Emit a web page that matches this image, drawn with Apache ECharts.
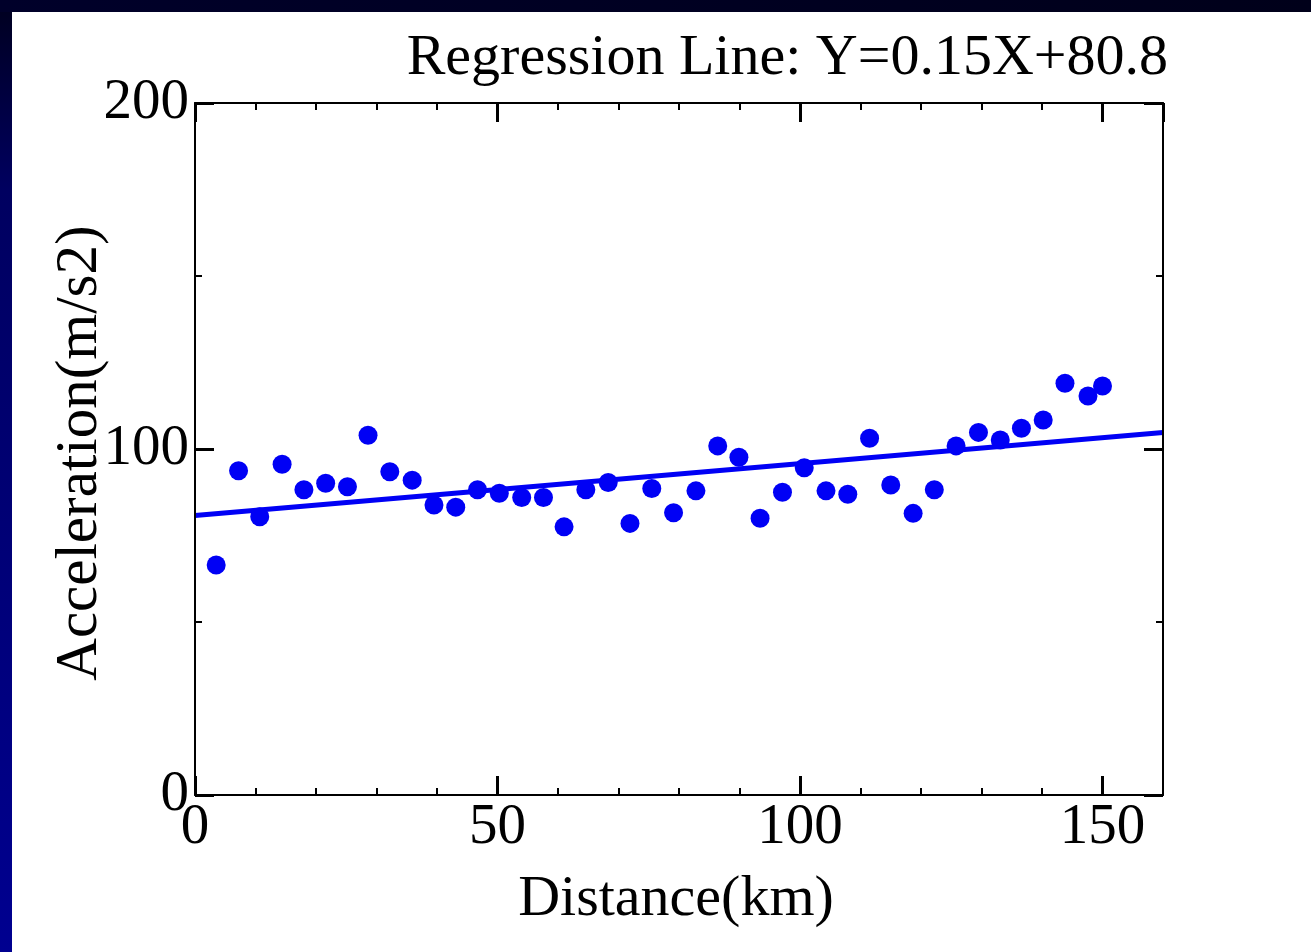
<!DOCTYPE html>
<html><head><meta charset="utf-8">
<script src="https://cdn.jsdelivr.net/npm/echarts@6/dist/echarts.min.js"></script>
<style>html,body{margin:0;padding:0;background:#fff;overflow:hidden;} #c{width:1311px;height:952px;}</style>
</head><body><div id="c"></div>
<script>
// ---- data ----
const distanceKm = [3.5, 7.2, 10.7, 14.4, 18.0, 21.6, 25.2, 28.6, 32.2, 35.9,
  39.5, 43.1, 46.7, 50.3, 54.0, 57.6, 61.0, 64.6, 68.3, 71.9,
  75.5, 79.1, 82.8, 86.4, 89.9, 93.4, 97.1, 100.7, 104.3, 107.9,
  111.5, 115.0, 118.7, 122.2, 125.8, 129.5, 133.1, 136.6, 140.2, 143.8,
  147.6, 150.0];
const acceleration = [66.5, 93.7, 80.4, 95.6, 88.2, 90.1, 89.1, 104.0, 93.4, 91.0,
  83.8, 83.2, 88.2, 87.2, 86.0, 86.0, 77.5, 88.2, 90.3, 78.5,
  88.6, 81.6, 87.9, 100.9, 97.6, 80.0, 87.5, 94.6, 87.9, 86.9,
  103.1, 89.6, 81.4, 88.2, 100.9, 104.8, 102.6, 106.0, 108.4, 119.0,
  115.3, 118.2];
const regLineX = [0, 160];
const regLineY = [80.8, 104.8];
const titleText = 'Regression Line: Y=0.15X+80.8';
const xName = 'Distance(km)';
const yName = 'Acceleration(m/s2)';

// ---- chart ----
const FONT = "'Liberation Serif', 'Times New Roman', serif";
const BLUE = '#0000f5';
const chart = echarts.init(document.getElementById('c'), null, {renderer: 'canvas'});

function axisBase(pos, interval, major, labels, min, max) {
  return {
    type: 'value', position: pos, min: min, max: max, interval: interval,
    splitLine: {show: false},
    axisLine: {show: major, onZero: false, lineStyle: {color: '#000', width: 2}},
    axisTick: {show: true, inside: true, length: major ? 19 : 7,
      lineStyle: {color: '#000', width: major ? 3 : 2}},
    axisLabel: {show: labels, color: '#000', fontFamily: FONT, fontSize: 57,
      margin: pos === 'bottom' ? 5 : 6, showMaxLabel: pos === 'bottom' ? false : true},
    z: 10
  };
}

const scatterData = distanceKm.map((d, i) => [d, acceleration[i]]);
const lineData = regLineX.map((d, i) => [d, regLineY[i]]);

chart.setOption({
  backgroundColor: '#ffffff',
  animation: false,
  grid: {left: 195, top: 103, right: 148, bottom: 157, containLabel: false},
  xAxis: [
    axisBase('bottom', 50, true, true, 0, 160),
    axisBase('bottom', 10, false, false, 0, 160),
    axisBase('top', 50, true, false, 0, 160),
    axisBase('top', 10, false, false, 0, 160)
  ],
  yAxis: [
    axisBase('left', 100, true, true, 0, 200),
    axisBase('left', 50, false, false, 0, 200),
    axisBase('right', 100, true, false, 0, 200),
    axisBase('right', 50, false, false, 0, 200)
  ],
  graphic: [
    {type: 'rect', left: 0, top: 0, shape: {width: 12, height: 952}, z: 100,
      style: {fill: new echarts.graphic.LinearGradient(0, 0, 0, 1, [
        {offset: 0, color: '#00001e'}, {offset: 0.2, color: '#000060'}, {offset: 1, color: '#000090'}])}},
    {type: 'rect', left: 0, top: 0, shape: {width: 1311, height: 12}, z: 100,
      style: {fill: new echarts.graphic.LinearGradient(0, 0, 1, 0, [
        {offset: 0, color: '#00002a'}, {offset: 1, color: '#00001a'}])}},
    {type: 'text', z: 50, x: 1168, y: 59,
      style: {text: titleText, font: "58px " + FONT, fill: '#000', align: 'right', verticalAlign: 'middle'}},
    {type: 'text', z: 50, x: 676, y: 900,
      style: {text: xName, font: "58px " + FONT, fill: '#000', align: 'center', verticalAlign: 'middle'}},
    {type: 'text', z: 50, x: 80, y: 453, rotation: Math.PI / 2,
      style: {text: yName, font: "59px " + FONT, fill: '#000', align: 'center', verticalAlign: 'middle'}}
  ],
  series: [
    {type: 'line', data: lineData, xAxisIndex: 0, yAxisIndex: 0, showSymbol: false, symbol: 'none',
      lineStyle: {color: BLUE, width: 5}, z: 2, silent: true},
    {type: 'scatter', data: scatterData, xAxisIndex: 0, yAxisIndex: 0, symbol: 'circle', symbolSize: 19,
      itemStyle: {color: BLUE, opacity: 1}, z: 3}
  ]
});
</script></body></html>
